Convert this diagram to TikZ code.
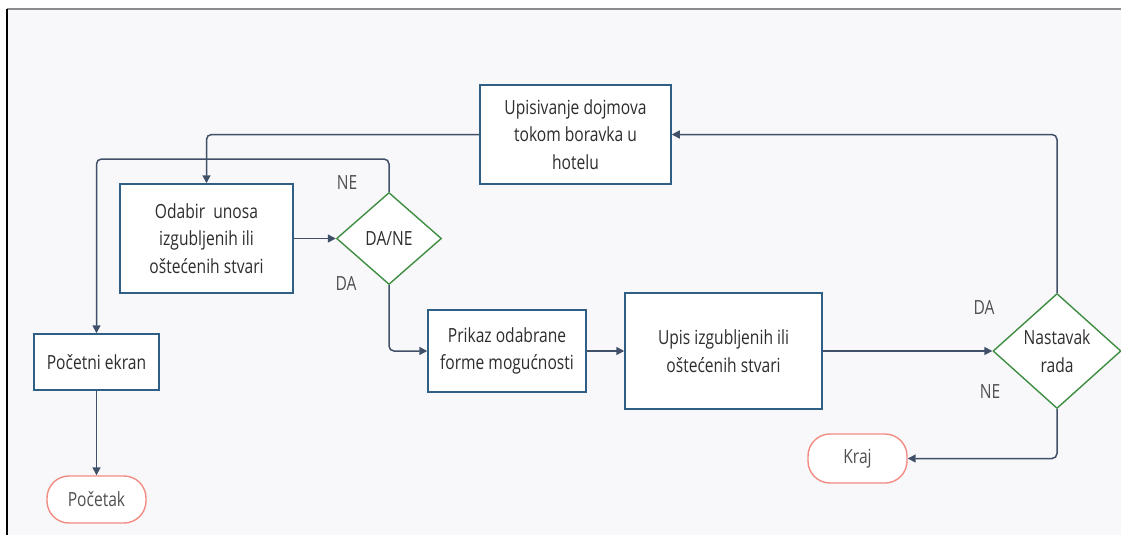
\documentclass[tikz,border=0pt]{standalone}
\usepackage{fontspec}
\setmainfont{Open Sans}[FakeStretch=0.8]
\usetikzlibrary{shapes.geometric,arrows.meta}
\definecolor{bgc}{HTML}{F8F8FB}
\definecolor{boxc}{HTML}{2F5F85}
\definecolor{dmc}{HTML}{3E8E41}
\definecolor{termc}{HTML}{F28B82}
\definecolor{linec}{HTML}{3F5068}
\definecolor{txtc}{HTML}{2D2D2D}
\definecolor{lblc}{HTML}{505050}
\tikzset{
  proc/.style={draw=boxc, line width=1.5pt, fill=white, inner sep=0pt, align=center, text=txtc},
  decis/.style={diamond, draw=dmc, line width=1.4pt, fill=white, inner sep=0pt, align=center, text=txtc},
  term/.style={draw=termc, line width=1.4pt, fill=white, rounded corners=22pt, inner sep=0pt, text=lblc},
  conn/.style={draw=linec, line width=1.5pt, rounded corners=5pt, -{Triangle[length=8pt,width=8pt]}},
  lbl/.style={text=lblc, inner sep=0pt}
}
\begin{document}
\begin{tikzpicture}[x=1pt,y=-1pt,font=\fontsize{19.5pt}{27.5pt}\selectfont]
\useasboundingbox (0,0) rectangle (1121,535);
\fill[white] (0,0) rectangle (1121,535);
\fill[bgc] (7,9.5) rectangle (1121,535);
\draw[gray!90, line width=2pt] (7,9.5) -- (1121,9.5);
\draw[black, line width=1.4pt] (7,9) -- (7,535);

\node[proc, minimum width=191pt, minimum height=99pt] (upis) at (575.5,134.5) {Upisivanje dojmova\\tokom boravka u\\hotelu};
\node[proc, minimum width=173pt, minimum height=109pt] (odabir) at (206.5,238.5) {Odabir\ \ unosa\\izgubljenih ili\\oštećenih stvari};
\node[decis, minimum width=105pt, minimum height=92pt] (dane) at (389,238.5) {DA/NE};
\node[proc, minimum width=158pt, minimum height=82pt] (prikaz) at (507,351) {Prikaz odabrane\\forme mogućnosti};
\node[proc, minimum width=197pt, minimum height=116pt] (upisst) at (723.5,351) {Upis izgubljenih ili\\oštećenih stvari};
\node[decis, minimum width=128pt, minimum height=115pt] (nast) at (1057,351) {Nastavak\\rada};
\node[proc, minimum width=125pt, minimum height=56pt] (pocetni) at (96.5,362) {Početni ekran};
\node[term, minimum width=99pt, minimum height=47pt] (pocetak) at (96.5,499.5) {Početak};
\node[term, minimum width=99pt, minimum height=49pt] (kraj) at (857.5,458.5) {Kraj};

\node[lbl] (lne1) at (347,183) {NE};
\node[lbl] (lda1) at (346,284) {DA};
\node[lbl] (lda2) at (984,308) {DA};
\node[lbl] (lne2) at (990,392) {NE};

\coordinate (c1) at (389,159);
\draw[conn] (upis.west) -| (odabir.north);
\draw[conn] (dane.north) -- (c1) -| (pocetni.north);
\draw[conn] (odabir.east) -- (dane.west);
\draw[conn] (dane.south) |- (prikaz.west);
\draw[conn] (prikaz.east) -- (upisst.west);
\draw[conn] (upisst.east) -- (nast.west);
\draw[conn] (nast.north) |- (upis.east);
\draw[conn] (nast.south) |- (kraj.east);
\draw[conn] (pocetni.south) -- (pocetak.north);
\end{tikzpicture}
\end{document}
